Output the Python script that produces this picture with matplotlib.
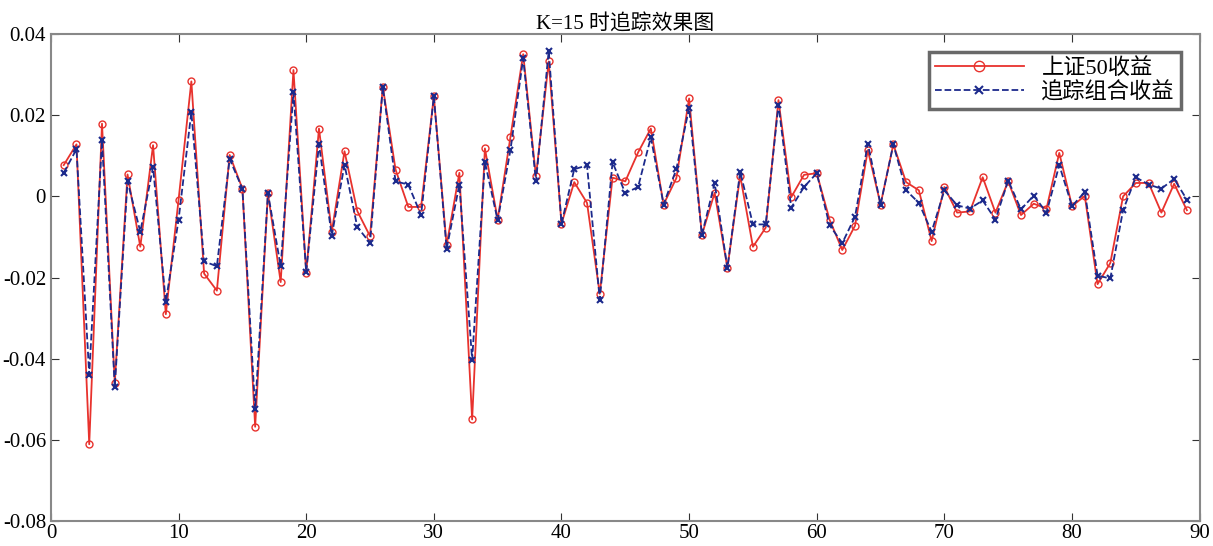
import matplotlib
matplotlib.use("Agg")
import matplotlib.pyplot as plt
from matplotlib.ticker import FuncFormatter

plt.rcParams['font.family'] = ['Liberation Serif', 'Noto Sans CJK SC', 'DejaVu Sans']

# data
days = list(range(1, 90))
sz50 = [0.0077, 0.0128, -0.0610, 0.0179, -0.0459, 0.0054, -0.0124, 0.0126, -0.0290, -0.0008,
        0.0283, -0.0190, -0.0232, 0.0102, 0.0019, -0.0567, 0.0008, -0.0211, 0.0311, -0.0188,
        0.0167, -0.0087, 0.0111, -0.0036, -0.0098, 0.0270, 0.0066, -0.0026, -0.0026, 0.0246,
        -0.0120, 0.0058, -0.0549, 0.0118, -0.0057, 0.0146, 0.0350, 0.0049, 0.0332, -0.0067,
        0.0035, -0.0016, -0.0240, 0.0046, 0.0037, 0.0108, 0.0167, -0.0020, 0.0045, 0.0241,
        -0.0095, 0.0009, -0.0176, 0.0051, -0.0124, -0.0077, 0.0237, -0.0002, 0.0053, 0.0057,
        -0.0057, -0.0132, -0.0072, 0.0114, -0.0020, 0.0128, 0.0035, 0.0015, -0.0110, 0.0023,
        -0.0040, -0.0037, 0.0047, -0.0040, 0.0037, -0.0046, -0.0018, -0.0030, 0.0107, -0.0024,
        0.0001, -0.0216, -0.0164, 0.0000, 0.0033, 0.0033, -0.0040, 0.0031, -0.0034]
track = [0.0058, 0.0116, -0.0439, 0.0138, -0.0469, 0.0037, -0.0087, 0.0072, -0.0260, -0.0057,
         0.0207, -0.0160, -0.0172, 0.0092, 0.0019, -0.0524, 0.0008, -0.0172, 0.0256, -0.0186,
         0.0128, -0.0097, 0.0078, -0.0075, -0.0115, 0.0269, 0.0037, 0.0029, -0.0046, 0.0246,
         -0.0129, 0.0029, -0.0402, 0.0085, -0.0059, 0.0114, 0.0340, 0.0037, 0.0358, -0.0067,
         0.0067, 0.0076, -0.0254, 0.0084, 0.0008, 0.0023, 0.0145, -0.0020, 0.0067, 0.0218,
         -0.0095, 0.0033, -0.0176, 0.0061, -0.0069, -0.0069, 0.0226, -0.0028, 0.0023, 0.0057,
         -0.0071, -0.0115, -0.0050, 0.0130, -0.0020, 0.0128, 0.0015, -0.0016, -0.0087, 0.0015,
         -0.0022, -0.0030, -0.0010, -0.0057, 0.0039, -0.0032, 0.0002, -0.0040, 0.0077, -0.0024,
         0.0011, -0.0195, -0.0202, -0.0034, 0.0047, 0.0029, 0.0019, 0.0043, -0.0008]

fig = plt.figure(figsize=(12.13, 5.46), dpi=100)
ax = fig.add_axes([0.042, 0.045, 0.947, 0.893])

ax.plot(days, sz50, '-o', color='#e8322d', lw=1.3, ms=5, mfc='none', mew=1.0,
        label='上证50收益')
ax.plot(days, track, '--x', color='#1c2a8c', lw=1.3, ms=4, mew=1.5,
        label='追踪组合收益')

ax.set_xlim(0, 90)
ax.set_ylim(-0.08, 0.04)
ax.set_xticks(range(0, 91, 10))
ax.set_yticks([0.04, 0.02, 0, -0.02, -0.04, -0.06, -0.08])
ax.yaxis.set_major_formatter(FuncFormatter(lambda v, p: '0' if abs(v) < 1e-9 else '%.2f' % v))
ax.tick_params(direction='in', top=True, right=True, length=6, labelsize=15,
               color='#333333', labelcolor='black')
ax.tick_params(axis='x', pad=2)
for s in ax.spines.values():
    s.set_color('#888888')
    s.set_linewidth(1.5)

ax.set_title('K=15 时追踪效果图', fontsize=15, pad=3)

leg = ax.legend(loc='upper right', fontsize=16, frameon=True, fancybox=False, markerscale=1.5,
                borderpad=0.25, handlelength=4, labelspacing=0.15, bbox_to_anchor=(0.993, 0.985))
leg.get_frame().set_edgecolor('#444444')
leg.get_frame().set_linewidth(2.5)

fig.savefig('out.png', dpi=100)
